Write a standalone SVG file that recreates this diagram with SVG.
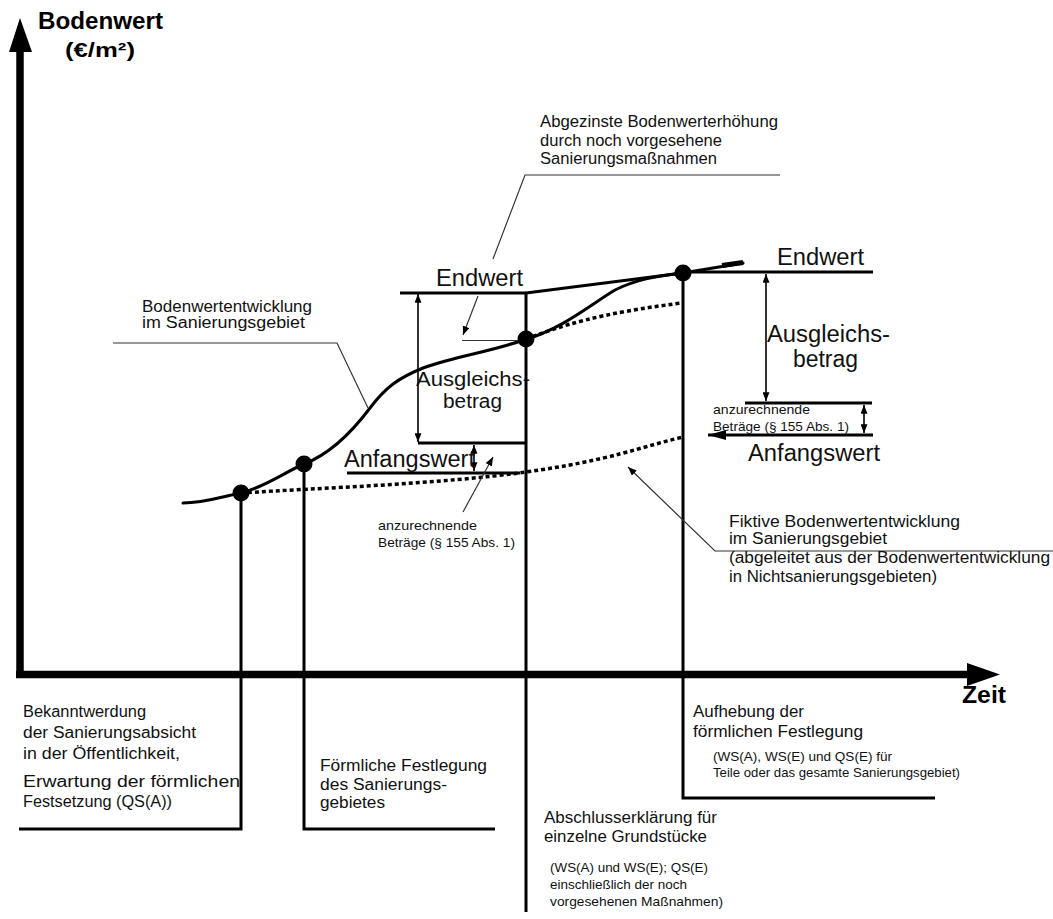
<svg xmlns="http://www.w3.org/2000/svg" width="1053" height="919" viewBox="0 0 1053 919">
<style>
text{font-family:"Liberation Sans",Arial,sans-serif;fill:#111}
.big{font-size:23px}
.med{font-size:20px}
.mid{font-size:16px}
.sm{font-size:13.5px}
.bold{font-weight:bold;fill:#000}
.ln{fill:none;stroke:#000;stroke-width:3}
.thin{fill:none;stroke:#000;stroke-width:1.6}
.lead{fill:none;stroke:#333;stroke-width:1.2}
.dot{fill:none;stroke:#000;stroke-width:3.5;stroke-dasharray:4 3}
.curve{fill:none;stroke:#000;stroke-width:3;stroke-linecap:round}
.ax{fill:none;stroke:#000;stroke-width:7.5}
</style>
<defs>
<marker id="ah" viewBox="0 0 10 8" markerWidth="9" markerHeight="7" refX="10" refY="4" markerUnits="userSpaceOnUse" orient="auto-start-reverse"><path d="M0,0 L10,4 L0,8 z" fill="#000"/></marker>
<marker id="ahb" viewBox="0 0 18 10" markerWidth="18" markerHeight="10" refX="0" refY="5" markerUnits="userSpaceOnUse" orient="auto"><path d="M18,0 L0,5 L18,10 z" fill="#000"/></marker>
</defs>

<g id="axes">
<line class="ax" x1="20" y1="678" x2="20" y2="50"/>
<polygon points="20,18 9,52 32,52" fill="#000"/>
<line class="ax" x1="16" y1="674.5" x2="968" y2="674.5"/>
<polygon points="1000,674.5 967,663 967,686" fill="#000"/>
<text class="bold" x="38" y="29" font-size="23" textLength="125" lengthAdjust="spacingAndGlyphs">Bodenwert</text>
<text class="bold" x="65" y="57" font-size="20" textLength="70" lengthAdjust="spacingAndGlyphs">(€/m²)</text>
<text class="bold" x="962" y="703" font-size="23" textLength="44" lengthAdjust="spacingAndGlyphs">Zeit</text>
</g>

<g id="connectors">
<path class="dot" d="M241,493 C320,488 440,484 526,472 S640,447 683,437"/>
<path class="dot" d="M526,339 C560,326 600,313 682,303"/>
<path class="curve" d="M183,503 C205,503 220,497 241,493 C265,487 285,472 304,464 C330,454 352,432 370,408 C385,388 398,378 423,368 C455,356 495,351 526,339 C560,330 590,305 615,290 C635,280 655,276 683,273 L743,263"/>
<path class="curve" d="M526,293 L683,273"/>
<line x1="722" y1="265.5" x2="743" y2="262.5" stroke="#000" stroke-width="5"/>
<path class="ln" d="M241,493 V829 H19"/>
<path class="ln" d="M304,464 V829 H495"/>
<path class="ln" d="M526,293 V912"/>
<path class="ln" d="M683,273 V798 H935"/>
<path class="ln" d="M400,293 H526"/>
<path class="ln" d="M418,443 H526"/>
<path class="ln" d="M347,473 H520"/>
<path class="ln" d="M683,272 H873"/>
<path class="ln" d="M745,403 H872"/>
<path class="ln" d="M708,435 H873" marker-start="url(#ahb)"/>
<line class="thin" x1="418" y1="294" x2="418" y2="442" marker-start="url(#ah)" marker-end="url(#ah)"/>
<line class="thin" x1="474" y1="445" x2="474" y2="471" marker-start="url(#ah)" marker-end="url(#ah)"/>
<line class="thin" x1="766" y1="274" x2="766" y2="401" marker-start="url(#ah)" marker-end="url(#ah)"/>
<line class="thin" x1="864" y1="405" x2="864" y2="433" marker-start="url(#ah)" marker-end="url(#ah)"/>
<path class="lead" d="M780,175 H525 L493,259"/>
<path class="lead" d="M478,296 L463,335" marker-end="url(#ah)"/>
<path class="lead" d="M462,340.5 H518"/>
<path class="lead" d="M113,343 H337 L368,408"/>
<path class="lead" d="M463,512 L493,457" marker-end="url(#ah)"/>
<path class="lead" d="M1053,551 H715 L628,467" marker-end="url(#ah)"/>
</g>

<g id="points">
<circle cx="241" cy="493" r="8.5" fill="#000"/>
<circle cx="304" cy="464" r="8.5" fill="#000"/>
<circle cx="526" cy="339" r="8.5" fill="#000"/>
<circle cx="683" cy="273" r="8.5" fill="#000"/>
</g>

<g id="label-abgezinste">
<text class="mid" x="540" y="127" textLength="238" lengthAdjust="spacingAndGlyphs">Abgezinste Bodenwerterhöhung</text>
<text class="mid" x="540" y="146" textLength="182" lengthAdjust="spacingAndGlyphs">durch noch vorgesehene</text>
<text class="mid" x="540" y="164" textLength="177" lengthAdjust="spacingAndGlyphs">Sanierungsmaßnahmen</text>
</g>

<g id="label-entwicklung">
<text class="mid" x="142" y="312" textLength="170" lengthAdjust="spacingAndGlyphs">Bodenwertentwicklung</text>
<text class="mid" x="142" y="328" textLength="163" lengthAdjust="spacingAndGlyphs">im  Sanierungsgebiet</text>
</g>

<g id="label-left-values">
<text class="big" x="436" y="286" textLength="87" lengthAdjust="spacingAndGlyphs">Endwert</text>
<text class="med" x="416" y="386" textLength="114" lengthAdjust="spacingAndGlyphs">Ausgleichs-</text>
<text class="med" x="443" y="408" textLength="59" lengthAdjust="spacingAndGlyphs">betrag</text>
<text class="big" x="344" y="467" textLength="131" lengthAdjust="spacingAndGlyphs">Anfangswert</text>
<text class="sm" x="378" y="530" textLength="99" lengthAdjust="spacingAndGlyphs">anzurechnende</text>
<text class="sm" x="378" y="547" textLength="137" lengthAdjust="spacingAndGlyphs">Beträge (§ 155 Abs. 1)</text>
</g>

<g id="label-right-values">
<text class="big" x="777" y="265" textLength="87" lengthAdjust="spacingAndGlyphs">Endwert</text>
<text class="big" x="767" y="342" textLength="123" lengthAdjust="spacingAndGlyphs">Ausgleichs-</text>
<text class="big" x="793" y="367" textLength="65" lengthAdjust="spacingAndGlyphs">betrag</text>
<text class="sm" x="713" y="414" textLength="97" lengthAdjust="spacingAndGlyphs">anzurechnende</text>
<text class="sm" x="713" y="431" textLength="136" lengthAdjust="spacingAndGlyphs">Beträge (§ 155 Abs. 1)</text>
<text class="big" x="748" y="461" textLength="132" lengthAdjust="spacingAndGlyphs">Anfangswert</text>
</g>

<g id="label-fiktive">
<text class="mid" x="729" y="527" textLength="231" lengthAdjust="spacingAndGlyphs">Fiktive Bodenwertentwicklung</text>
<text class="mid" x="729" y="544" textLength="158" lengthAdjust="spacingAndGlyphs">im Sanierungsgebiet</text>
<text class="mid" x="729" y="563" textLength="321" lengthAdjust="spacingAndGlyphs">(abgeleitet aus der Bodenwertentwicklung</text>
<text class="mid" x="729" y="582" textLength="208" lengthAdjust="spacingAndGlyphs">in Nichtsanierungsgebieten)</text>
</g>

<g id="label-bekanntwerdung">
<text class="mid" x="23" y="717" textLength="123" lengthAdjust="spacingAndGlyphs">Bekanntwerdung</text>
<text class="mid" x="23" y="738" textLength="173" lengthAdjust="spacingAndGlyphs">der Sanierungsabsicht</text>
<text class="mid" x="23" y="759" textLength="157" lengthAdjust="spacingAndGlyphs">in der Öffentlichkeit,</text>
<text class="mid" x="23" y="787" textLength="217" lengthAdjust="spacingAndGlyphs">Erwartung der förmlichen</text>
<text class="mid" x="23" y="807" textLength="149" lengthAdjust="spacingAndGlyphs">Festsetzung (QS(A))</text>
</g>

<g id="label-foermliche">
<text class="mid" x="320" y="771" textLength="167" lengthAdjust="spacingAndGlyphs">Förmliche Festlegung</text>
<text class="mid" x="320" y="790" textLength="127" lengthAdjust="spacingAndGlyphs">des Sanierungs-</text>
<text class="mid" x="320" y="808" textLength="65" lengthAdjust="spacingAndGlyphs">gebietes</text>
</g>

<g id="label-abschluss">
<text class="mid" x="544" y="823" textLength="173" lengthAdjust="spacingAndGlyphs">Abschlusserklärung für</text>
<text class="mid" x="544" y="842" textLength="163" lengthAdjust="spacingAndGlyphs">einzelne Grundstücke</text>
<text class="sm" x="550" y="872" textLength="158" lengthAdjust="spacingAndGlyphs">(WS(A) und WS(E); QS(E)</text>
<text class="sm" x="550" y="889" textLength="137" lengthAdjust="spacingAndGlyphs">einschließlich der noch</text>
<text class="sm" x="550" y="906" textLength="173" lengthAdjust="spacingAndGlyphs">vorgesehenen Maßnahmen)</text>
</g>

<g id="label-aufhebung">
<text class="mid" x="693" y="717" textLength="111" lengthAdjust="spacingAndGlyphs">Aufhebung der</text>
<text class="mid" x="693" y="737" textLength="170" lengthAdjust="spacingAndGlyphs">förmlichen Festlegung</text>
<text class="sm" x="713" y="761" textLength="179" lengthAdjust="spacingAndGlyphs">(WS(A), WS(E) und QS(E) für</text>
<text class="sm" x="713" y="777" textLength="247" lengthAdjust="spacingAndGlyphs">Teile oder das gesamte Sanierungsgebiet)</text>
</g>
</svg>
